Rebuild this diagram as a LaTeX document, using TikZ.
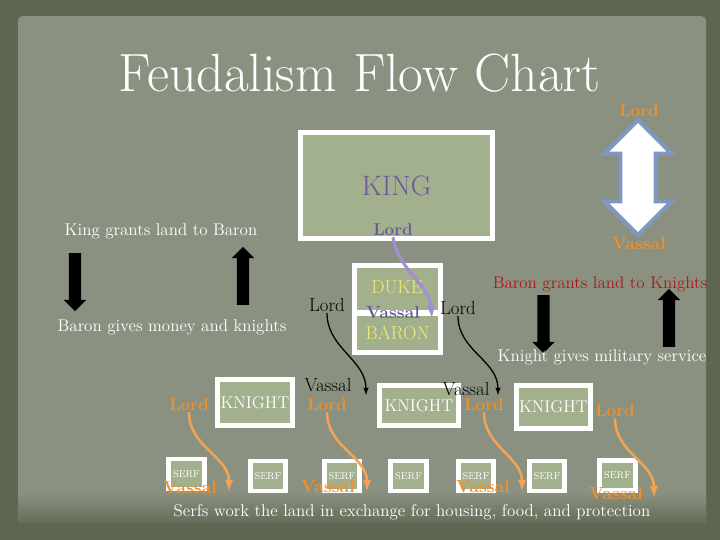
\documentclass[tikz,border=0pt]{standalone}
\usepackage{tikz}
\usetikzlibrary{arrows,shapes,shapes.arrows,calc}

\definecolor{cornice}{HTML}{5C6650}
\definecolor{carta}{HTML}{8B9181}
\definecolor{salvia}{HTML}{A3B08E}
\definecolor{arancio}{HTML}{F0902A}
\definecolor{arancioch}{HTML}{F0A458}
\definecolor{viola}{HTML}{6A5A98}
\definecolor{lilla}{HTML}{A28ED4}
\definecolor{rosso}{HTML}{B01418}
\definecolor{giallo}{HTML}{ECEC72}
\definecolor{bluastro}{HTML}{7E98C2}

\tikzset{
  scatola/.style={draw=white, line width=4pt, fill=salvia, inner sep=0pt},
  testo/.style={text=white, font=\fontsize{14.5}{17}\selectfont, inner sep=1pt},
  lordar/.style={text=arancio, font=\bfseries\fontsize{14.5}{16}\selectfont, inner sep=1pt},
  vassar/.style={text=arancio, font=\bfseries\fontsize{15}{17}\selectfont, inner sep=1pt},
  nero/.style={text=black, font=\fontsize{16}{18}\selectfont, inner sep=1pt},
  bloccofr/.style={single arrow, fill=black, draw=none, inner sep=0.18cm,
         single arrow head extend=0.15cm, minimum height=1.74cm, minimum width=0.66cm},
  curvanera/.style={-latex, line width=1.1pt, black},
  curvaar/.style={-latex, line width=2.2pt, arancioch},
}

\begin{document}
\begin{tikzpicture}[x=0.03cm,y=-0.03cm]
\useasboundingbox (0,0) rectangle (720,540);
% sfondo
\fill[cornice] (0,0) rectangle (720,540);
\fill[carta, rounded corners=4pt] (18,16) rectangle (706,522);
\shade[top color=carta, bottom color=cornice!80!carta] (18,492) rectangle (706,522);

\node[text=white, font=\fontsize{46}{52}\selectfont] (titolo) at (360,73) {Feudalism Flow Chart};

% re, duca, barone
\node[scatola, minimum width=5.77cm, minimum height=3.19cm, text=viola,
      font=\fontsize{24}{28}\selectfont] (king) at (396.5,185.5) {KING};
\node[text=viola, font=\bfseries\fontsize{14.5}{16}\selectfont, inner sep=1pt] (lordk) at (393,230) {Lord};
\node[scatola, minimum width=2.59cm, minimum height=1.42cm] (duke) at (397.5,289) {};
\node[scatola, minimum width=2.59cm, minimum height=1.18cm, text=giallo,
      font=\fontsize{16}{18}\selectfont] (baron) at (397.5,333) {BARON};
\node[text=giallo, font=\fontsize{16}{18}\selectfont] (duket) at (397,287) {DUKE};
\node[text=viola, font=\bfseries\fontsize{15}{17}\selectfont, inner sep=1pt] (vassd) at (393,312) {Vassal};
\coordinate (fineduca) at (432,318);
\draw[-latex, line width=2.6pt, lilla] (lordk.south) to[out=-80,in=95] (fineduca);

% signore / vassallo
\node[lordar] (lordtop) at (639,111) {Lord};
\node[double arrow, fill=white, draw=bluastro, line width=3.4pt, rotate=90,
      inner sep=0.47cm, double arrow head extend=0.48cm,
      minimum height=3.45cm, minimum width=1.89cm] (doppia) at (638,177.5) {};
\node[vassar] (vasstop) at (639,243) {Vassal};

% re e barone
\node[testo] (concede) at (161,231) {King grants land to Baron};
\node[bloccofr, rotate=-90] (giu1) at (75,279) {};
\node[bloccofr, rotate=90] (su1) at (243,279) {};
\node[testo] (paga) at (172,327) {Baron gives money and knights};

% barone e cavalieri
\node[testo, text=rosso] (concede2) at (600,284) {Baron grants land to Knights};
\node[bloccofr, rotate=-90] (giu2) at (543.5,321) {};
\node[bloccofr, rotate=90] (su2) at (669,321) {};
\node[testo] (servizio) at (602,357) {Knight gives military service};

% cavalieri
\node[scatola, minimum width=2.25cm, minimum height=1.38cm, text=white,
      font=\fontsize{14.5}{17}\selectfont] (knight1) at (255,402.5) {KNIGHT};
\node[scatola, minimum width=2.37cm, minimum height=1.2cm, text=white,
      font=\fontsize{14.5}{17}\selectfont] (knight2) at (419,405.5) {KNIGHT};
\node[scatola, minimum width=2.22cm, minimum height=1.29cm, text=white,
      font=\fontsize{14.5}{17}\selectfont] (knight3) at (553.5,407) {KNIGHT};

\node[nero] (lordb1) at (327,305) {Lord};
\node[nero] (lordb2) at (458,308) {Lord};
\node[nero] (vassb1) at (328,385) {Vassal};
\node[nero] (vassb2) at (466,389) {Vassal};
\coordinate (fineb1) at (366,395);
\coordinate (fineb2) at (498,395);
\draw[curvanera] (lordb1.south) to[out=-90,in=90] (fineb1);
\draw[curvanera] (lordb2.south) to[out=-90,in=90] (fineb2);

% servi
\foreach \nome/\xx/\yy in {serf1/186.5/474, serf2/268/476, serf3/342/476, serf4/408.5/476,
                           serf5/476/476, serf6/547/476, serf7/617.5/475.5}
  \node[scatola, minimum width=1.06cm, minimum height=0.9cm, text=white,
        font=\fontsize{8.5}{10}\selectfont] (\nome) at (\xx,\yy) {SERF};

\node[lordar] (lordo1) at (189,405) {Lord};
\node[lordar] (lordo2) at (327,405) {Lord};
\node[lordar] (lordo3) at (484,405) {Lord};
\node[lordar] (lordo4) at (615,411) {Lord};
\node[vassar] (vasso1) at (190,487) {Vassal};
\node[vassar] (vasso2) at (328,486) {Vassal};
\node[vassar] (vasso3) at (483,486) {Vassal};
\node[vassar] (vasso4) at (616,493) {Vassal};
\coordinate (fineo1) at (229,491);
\coordinate (fineo2) at (367,491);
\coordinate (fineo3) at (522,491);
\coordinate (fineo4) at (654,497);
\draw[curvaar] (lordo1.south) to[out=-90,in=90] (fineo1);
\draw[curvaar] (lordo2.south) to[out=-90,in=90] (fineo2);
\draw[curvaar] (lordo3.south) to[out=-90,in=90] (fineo3);
\draw[curvaar] (lordo4.south) to[out=-90,in=90] (fineo4);

\node[testo] (servi) at (412,512) {Serfs work the land in exchange for housing, food, and protection};
\end{tikzpicture}
\end{document}
